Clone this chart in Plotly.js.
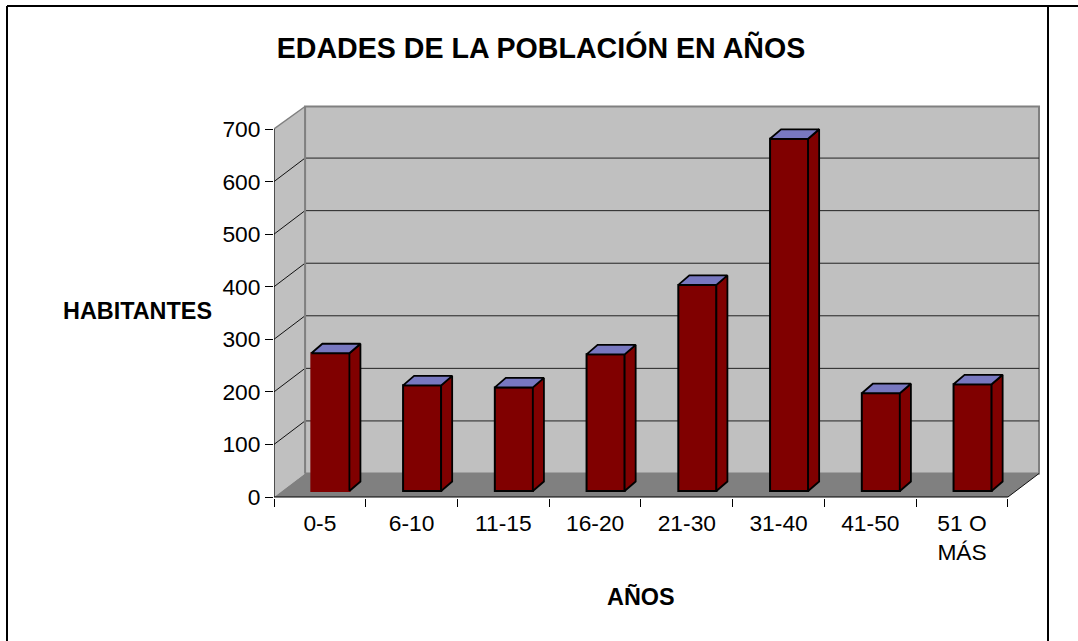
<!DOCTYPE html>
<html><head><meta charset="utf-8">
<script src="https://cdn.plot.ly/plotly-3.0.1.min.js"></script>
<style>html,body{margin:0;padding:0;background:#fff}#c{width:1078px;height:641px}</style>
</head><body><div id="c"></div>
<script>
const categories = ['0-5','6-10','11-15','16-20','21-30','31-40','41-50','51 O<br>MÁS'];
const habitantes = [262,201,197,260,392,670,186,203];
const yTicks = [0,100,200,300,400,500,600,700];
const titleText = 'EDADES DE LA POBLACIÓN EN AÑOS';
const xTitle = 'AÑOS';
const yTitle = 'HABITANTES';

// geometry (pixels)
const W=1078,H=641,L=274,R=1041,T=104,B=498;
const pxX=91.625, pxY=0.5257;
const x0=-0.5, xMax=x0+(R-L-1)/pxX;
const dx=31/pxX, dv=23.5/pxY;         // wall depth
const bdx=11/pxX, bdv=9.5/pxY;        // bar depth
const baseV=6/pxY, barOff=-0.093, barW=0.415; // bar placement
const xL=x0, xE=x0+categories.length;
const px=v=>(v-L)/(R-L), py=v=>(B-v)/(B-T);

const shapes=[];
const poly=(pts,fill,line,lw)=>shapes.push({type:'path',xref:'x',yref:'y',layer:'below',
  path:'M'+pts.map(p=>p[0]+','+p[1]).join('L')+'Z',fillcolor:fill,line:{color:line,width:lw}});
const seg=(a,b,c,w)=>shapes.push({type:'line',xref:'x',yref:'y',layer:'below',x0:a[0],y0:a[1],x1:b[0],y1:b[1],line:{color:c,width:w}});
const vTop=yTicks[yTicks.length-1];
const wTop=vTop+dv-1/pxY;

poly([[xL+dx,dv],[xE+dx,dv],[xE+dx,wTop],[xL+dx,wTop]],'#c0c0c0','#808080',2);
poly([[xL,0],[xL+dx,dv],[xL+dx,wTop],[xL,vTop]],'#c0c0c0','#808080',0);
poly([[xL,0],[xE,0],[xE+dx,dv],[xL+dx,dv]],'#808080','#808080',0);
yTicks.slice(1,-1).forEach(v=>{
  seg([xL,v],[xL+dx,v+dv],'#111',1);
  seg([xL+dx,v+dv],[xE+dx,v+dv],'#222',1);
});
seg([xL,vTop],[xL+dx,wTop],'#808080',1.5);
seg([xL+dx,dv],[xL+dx,wTop],'#808080',2);
seg([xE,0],[xE+dx,dv],'#111',1);
seg([xL,0],[xL,vTop],'#000',1.2);
seg([xL,0],[xE,0],'#000',1.2);

// outer frame
[[7,6,1078,6],[7,6,7,641],[1048,6,1048,641]].forEach(f=>shapes.push({type:'line',xref:'paper',yref:'paper',
  x0:px(f[0]),y0:py(f[1]),x1:px(f[2]),y1:py(f[3]),line:{color:'#000',width:2}}));

const traces=[{type:'bar',x:categories,y:habitantes,base:baseV,width:barW,offset:barOff,
  marker:{color:'#800000',line:{color:habitantes.map((v,i)=>i===0?'#800000':'#000'),width:2}},hoverinfo:'y',showlegend:false}];
const bx=i=>i+barOff;
const faces=(name,fill,build)=>traces.push({type:'scatter',mode:'lines',fill:'toself',fillcolor:fill,
  line:{color:'#000',width:1.8},x:build.flatMap(r=>r[0]),y:build.flatMap(r=>r[1]),
  hoverinfo:'skip',showlegend:false,connectgaps:false,name:name,xaxis:'x2',yaxis:'y'});
faces('side','#800000',habitantes.map((v,i)=>{const a=bx(i)+barW,t=baseV+v;
  return [[a,a+bdx,a+bdx,a,a,null],[baseV,baseV+bdv,t+bdv,t,baseV,null]];}));
faces('top','#7878c0',habitantes.map((v,i)=>{const a=bx(i),t=baseV+v;
  return [[a,a+barW,a+barW+bdx,a+bdx,a,null],[t,t,t+bdv,t+bdv,t,null]];}));

const font={family:'"Liberation Sans",Arial,sans-serif',color:'#000'};
const layout={
  width:W,height:H,paper_bgcolor:'#fff',plot_bgcolor:'rgba(0,0,0,0)',showlegend:false,
  margin:{l:L,r:W-R,t:T,b:H-B,pad:0},bargap:0,
  title:{text:'<b>'+titleText+'</b>',x:541/W,xanchor:'center',y:1-48/H,yanchor:'middle',font:{...font,size:28.6}},
  xaxis:{type:'category',categoryorder:'array',categoryarray:categories,range:[x0,xMax],
    tickson:'boundaries',ticks:'outside',ticklen:8,tickwidth:1,tickcolor:'#000',showgrid:false,zeroline:false,showline:false,
    tickfont:{...font,size:22.8},tickangle:0,fixedrange:true,automargin:false,ticklabelstandoff:9},
  xaxis2:{overlaying:'x',type:'linear',range:[x0,xMax],visible:false,fixedrange:true},
  yaxis:{range:[-1/pxY,(B-T-1)/pxY],tickmode:'array',tickvals:yTicks,ticks:'outside',ticklen:8,tickwidth:1,tickcolor:'#000',
    showgrid:false,zeroline:false,showline:false,tickfont:{...font,size:22.8},fixedrange:true,automargin:false},
  shapes:shapes,
  annotations:[
   {text:'<b>'+yTitle+'</b>',xref:'paper',yref:'paper',x:px(137),y:py(311),xanchor:'center',yanchor:'middle',showarrow:false,font:{...font,size:23.4}},
   {text:'<b>'+xTitle+'</b>',xref:'paper',yref:'paper',x:px(640.5),y:py(596),xanchor:'center',yanchor:'middle',showarrow:false,font:{...font,size:23.4}}]
};
Plotly.newPlot('c',traces,layout,{staticPlot:true,displayModeBar:false});
</script></body></html>
